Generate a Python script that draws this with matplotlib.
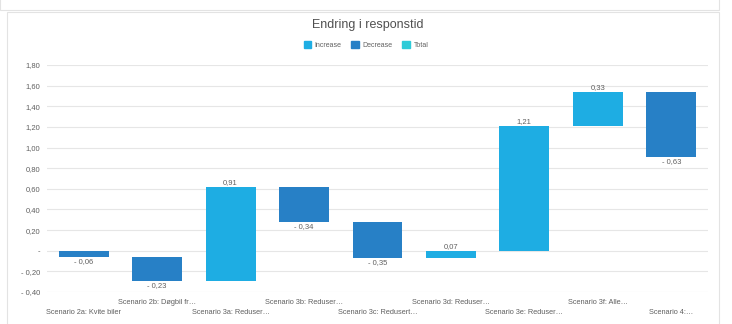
import matplotlib.pyplot as plt
from matplotlib.patches import Rectangle, Patch
import numpy as np

plt.rcParams['font.family'] = ['Liberation Sans', 'DejaVu Sans']

categories = ['Scenario 2a: Kvite biler', 'Scenario 2b: Døgbil fr…', 'Scenario 3a: Reduser…',
              'Scenario 3b: Reduser…', 'Scenario 3c: Redusert…', 'Scenario 3d: Reduser…',
              'Scenario 3e: Reduser…', 'Scenario 3f: Alle…', 'Scenario 4:…']
changes = [-0.06, -0.23, 0.91, -0.34, -0.35, 0.07, 1.21, 0.33, -0.63]
yticks = [-0.4, -0.2, 0, 0.2, 0.4, 0.6, 0.8, 1.0, 1.2, 1.4, 1.6, 1.8]

inc_color = '#1EADE3'
dec_color = '#2780C6'
tot_color = '#2ECBD8'
txt = '#606060'

def fmt(v):
    if abs(v) < 1e-9:
        return '-'
    s = f'{abs(v):.2f}'.replace('.', ',')
    return '- ' + s if v < 0 else s

fig = plt.figure(figsize=(7.32, 3.24), dpi=100)
W, H = 732, 324

# page frames (behind everything)
fig.patches.append(Rectangle((0, (H - 10) / H), 719 / W, 12 / H, transform=fig.transFigure,
                             facecolor='white', edgecolor='#e3e3e3', lw=0.8, zorder=-10))
fig.patches.append(Rectangle((7 / W, -0.05), 712 / W, (H - 12) / H + 0.05, transform=fig.transFigure,
                             facecolor='white', edgecolor='#e3e3e3', lw=0.8, zorder=-10))

ax = fig.add_axes([47 / W, 32 / H, 661 / W, 227 / H])
ax.set_facecolor('none')

x = np.arange(len(changes))
ends = np.cumsum(changes)
starts = ends - np.array(changes)
for i, c in enumerate(changes):
    col = inc_color if c >= 0 else dec_color
    bottom = min(starts[i], ends[i])
    ax.bar(x[i], abs(c), bottom=bottom, width=0.68, color=col, zorder=3)
    if c >= 0:
        ax.text(x[i], ends[i] + 0.01, fmt(c), ha='center', va='bottom', fontsize=5.5, color=txt)
    else:
        ax.text(x[i], ends[i] - 0.015, fmt(c), ha='center', va='top', fontsize=5.5, color=txt)

ax.set_xlim(-0.5, len(changes) - 0.5)
ax.set_ylim(-0.4, 1.8)
ax.set_yticks(yticks)
ax.set_yticklabels([fmt(v) for v in yticks], fontsize=5.5, color=txt)
ax.grid(axis='y', color='#e6e6e6', lw=0.8, zorder=0)
for s in ax.spines.values():
    s.set_visible(False)
ax.tick_params(length=0)
ax.tick_params(axis='y', pad=5)

ax.set_xticks(x)
ax.set_xticklabels(categories, fontsize=5.3, color=txt)
for i, t in enumerate(ax.xaxis.get_major_ticks()):
    t.set_pad(12 if i % 2 == 0 else 5)

fig.text(368 / W, 1 - 25 / H, 'Endring i responstid', ha='center', va='center', fontsize=9, color='#505050')

handles = [Patch(color=inc_color), Patch(color=dec_color), Patch(color=tot_color)]
fig.legend(handles, ['Increase', 'Decrease', 'Total'], loc='center', bbox_to_anchor=(366 / W, 1 - 45 / H),
           ncol=3, frameon=False, fontsize=5, handlelength=1.1, handleheight=1.1, handletextpad=0.5,
           columnspacing=1.4, labelcolor=txt)

fig.savefig('out.png', dpi=100)
